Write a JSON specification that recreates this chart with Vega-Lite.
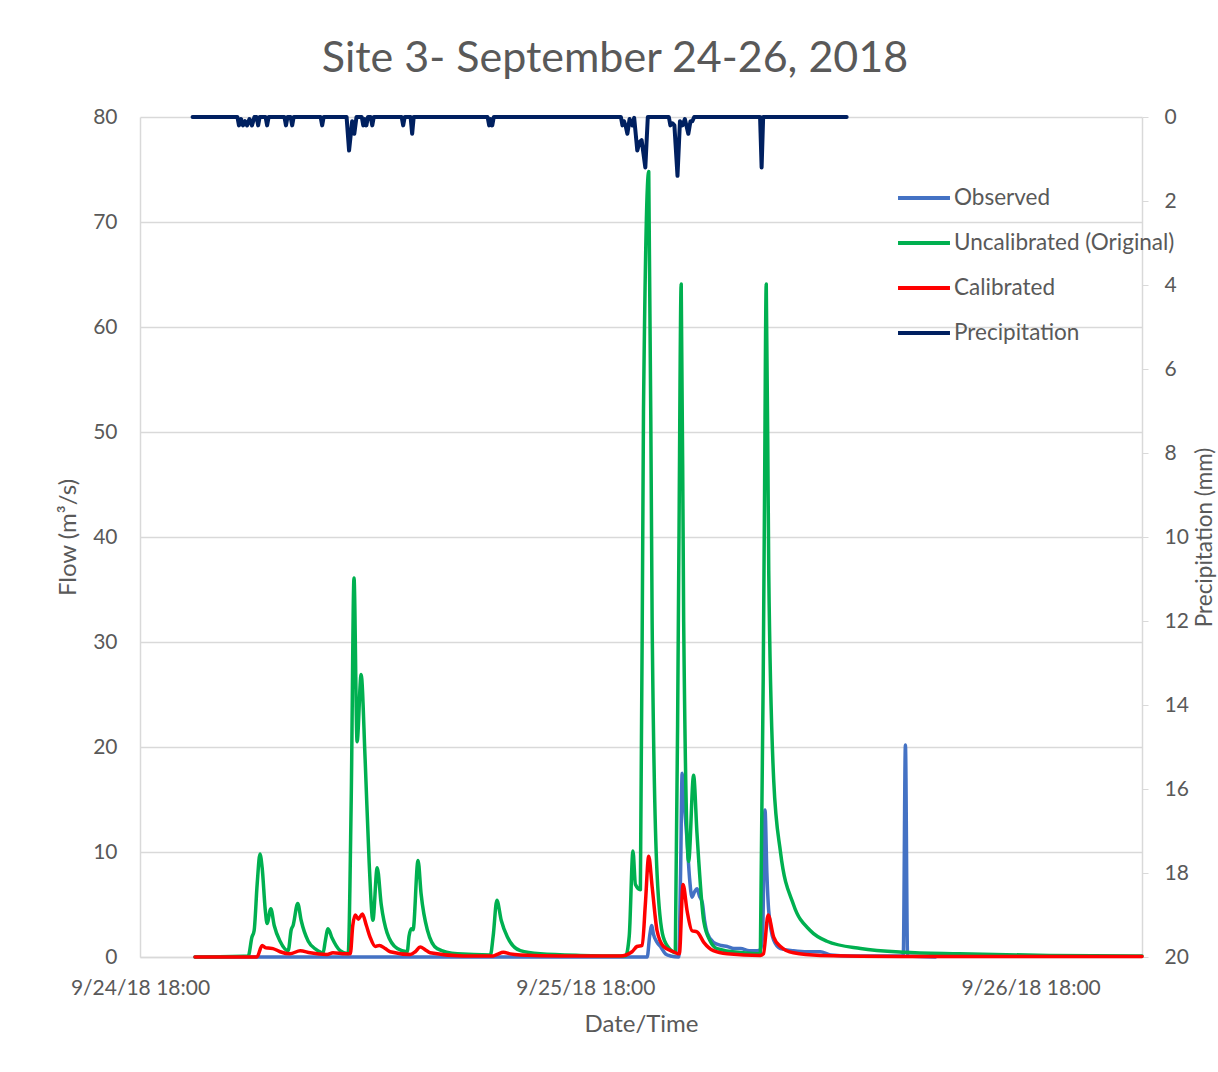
{
  "$schema": "https://vega.github.io/schema/vega-lite/v6.json",
  "width": 1002,
  "height": 840,
  "autosize": {"type": "none"},
  "padding": {"left": 140, "top": 117, "right": 76, "bottom": 115},
  "background": "white",
  "config": {
    "view": {"stroke": null},
    "font": "Lato",
    "axis": {"labelFont": "Lato", "titleFont": "Lato", "labelColor": "#595959", "titleColor": "#595959", "labelFontSize": 21, "titleFontSize": 24, "titleFontWeight": "normal", "domainColor": "#d9d9d9", "domainWidth": 1.5, "tickColor": "#d9d9d9", "gridColor": "#d9d9d9", "gridWidth": 1.5}
  },
  "title": {"text": "Site 3- September 24-26, 2018", "font": "Lato", "fontSize": 43, "fontWeight": "normal", "color": "#595959", "anchor": "middle", "dx": -26, "offset": 25},
  "data": {"values": [
    {"s":"Observed","t":"2018-09-24T20:58","v":0},
    {"s":"Observed","t":"2018-09-25T21:20","v":0},
    {"s":"Observed","t":"2018-09-25T21:28","v":2.0},
    {"s":"Observed","t":"2018-09-25T21:35","v":3.0},
    {"s":"Observed","t":"2018-09-25T21:40","v":2.2},
    {"s":"Observed","t":"2018-09-25T21:52","v":1.4},
    {"s":"Observed","t":"2018-09-25T22:03","v":1.0},
    {"s":"Observed","t":"2018-09-25T22:19","v":0.3},
    {"s":"Observed","t":"2018-09-25T22:35","v":0.1},
    {"s":"Observed","t":"2018-09-25T23:02","v":0},
    {"s":"Observed","t":"2018-09-25T23:08","v":8},
    {"s":"Observed","t":"2018-09-25T23:13","v":17.5},
    {"s":"Observed","t":"2018-09-25T23:20","v":14.5},
    {"s":"Observed","t":"2018-09-25T23:29","v":11.1},
    {"s":"Observed","t":"2018-09-25T23:37","v":7.5},
    {"s":"Observed","t":"2018-09-25T23:45","v":5.7},
    {"s":"Observed","t":"2018-09-25T23:53","v":6.2},
    {"s":"Observed","t":"2018-09-26T00:01","v":6.5},
    {"s":"Observed","t":"2018-09-26T00:09","v":5.8},
    {"s":"Observed","t":"2018-09-26T00:18","v":5.2},
    {"s":"Observed","t":"2018-09-26T00:26","v":3.4},
    {"s":"Observed","t":"2018-09-26T00:34","v":2.3},
    {"s":"Observed","t":"2018-09-26T00:54","v":1.4},
    {"s":"Observed","t":"2018-09-26T01:20","v":1.1},
    {"s":"Observed","t":"2018-09-26T01:39","v":1.0},
    {"s":"Observed","t":"2018-09-26T02:00","v":0.8},
    {"s":"Observed","t":"2018-09-26T02:22","v":0.8},
    {"s":"Observed","t":"2018-09-26T02:50","v":0.6},
    {"s":"Observed","t":"2018-09-26T03:16","v":0.6},
    {"s":"Observed","t":"2018-09-26T03:26","v":0.7},
    {"s":"Observed","t":"2018-09-26T03:33","v":2.0},
    {"s":"Observed","t":"2018-09-26T03:41","v":14.0},
    {"s":"Observed","t":"2018-09-26T03:47","v":8.0},
    {"s":"Observed","t":"2018-09-26T03:53","v":4.4},
    {"s":"Observed","t":"2018-09-26T04:09","v":1.6},
    {"s":"Observed","t":"2018-09-26T04:31","v":0.8},
    {"s":"Observed","t":"2018-09-26T05:13","v":0.6},
    {"s":"Observed","t":"2018-09-26T05:57","v":0.5},
    {"s":"Observed","t":"2018-09-26T06:40","v":0.5},
    {"s":"Observed","t":"2018-09-26T07:13","v":0.2},
    {"s":"Observed","t":"2018-09-26T08:17","v":0.1},
    {"s":"Observed","t":"2018-09-26T11:08","v":0.1},
    {"s":"Observed","t":"2018-09-26T11:15","v":20.2},
    {"s":"Observed","t":"2018-09-26T11:22","v":0.1},
    {"s":"Observed","t":"2018-09-26T12:52","v":0},
    {"s":"Uncalibrated (Original)","t":"2018-09-24T20:58","v":0},
    {"s":"Uncalibrated (Original)","t":"2018-09-24T23:50","v":0.1},
    {"s":"Uncalibrated (Original)","t":"2018-09-25T00:02","v":1.9},
    {"s":"Uncalibrated (Original)","t":"2018-09-25T00:09","v":2.5},
    {"s":"Uncalibrated (Original)","t":"2018-09-25T00:19","v":7.0},
    {"s":"Uncalibrated (Original)","t":"2018-09-25T00:28","v":9.8},
    {"s":"Uncalibrated (Original)","t":"2018-09-25T00:35","v":8.5},
    {"s":"Uncalibrated (Original)","t":"2018-09-25T00:45","v":4.5},
    {"s":"Uncalibrated (Original)","t":"2018-09-25T00:51","v":3.2},
    {"s":"Uncalibrated (Original)","t":"2018-09-25T01:03","v":4.6},
    {"s":"Uncalibrated (Original)","t":"2018-09-25T01:14","v":3.0},
    {"s":"Uncalibrated (Original)","t":"2018-09-25T01:33","v":1.5},
    {"s":"Uncalibrated (Original)","t":"2018-09-25T01:59","v":0.6},
    {"s":"Uncalibrated (Original)","t":"2018-09-25T02:09","v":2.6},
    {"s":"Uncalibrated (Original)","t":"2018-09-25T02:15","v":3.0},
    {"s":"Uncalibrated (Original)","t":"2018-09-25T02:30","v":5.1},
    {"s":"Uncalibrated (Original)","t":"2018-09-25T02:41","v":3.5},
    {"s":"Uncalibrated (Original)","t":"2018-09-25T03:04","v":1.5},
    {"s":"Uncalibrated (Original)","t":"2018-09-25T03:30","v":0.7},
    {"s":"Uncalibrated (Original)","t":"2018-09-25T03:52","v":0.4},
    {"s":"Uncalibrated (Original)","t":"2018-09-25T03:59","v":1.5},
    {"s":"Uncalibrated (Original)","t":"2018-09-25T04:08","v":2.7},
    {"s":"Uncalibrated (Original)","t":"2018-09-25T04:21","v":1.8},
    {"s":"Uncalibrated (Original)","t":"2018-09-25T04:47","v":0.6},
    {"s":"Uncalibrated (Original)","t":"2018-09-25T05:13","v":0.3},
    {"s":"Uncalibrated (Original)","t":"2018-09-25T05:23","v":15},
    {"s":"Uncalibrated (Original)","t":"2018-09-25T05:32","v":36.1},
    {"s":"Uncalibrated (Original)","t":"2018-09-25T05:42","v":20.5},
    {"s":"Uncalibrated (Original)","t":"2018-09-25T05:55","v":26.9},
    {"s":"Uncalibrated (Original)","t":"2018-09-25T06:08","v":18.8},
    {"s":"Uncalibrated (Original)","t":"2018-09-25T06:21","v":9},
    {"s":"Uncalibrated (Original)","t":"2018-09-25T06:33","v":3.5},
    {"s":"Uncalibrated (Original)","t":"2018-09-25T06:47","v":8.5},
    {"s":"Uncalibrated (Original)","t":"2018-09-25T07:00","v":5},
    {"s":"Uncalibrated (Original)","t":"2018-09-25T07:19","v":2.3},
    {"s":"Uncalibrated (Original)","t":"2018-09-25T07:52","v":0.8},
    {"s":"Uncalibrated (Original)","t":"2018-09-25T08:24","v":0.5},
    {"s":"Uncalibrated (Original)","t":"2018-09-25T08:30","v":2.0},
    {"s":"Uncalibrated (Original)","t":"2018-09-25T08:37","v":2.7},
    {"s":"Uncalibrated (Original)","t":"2018-09-25T08:43","v":2.6},
    {"s":"Uncalibrated (Original)","t":"2018-09-25T08:59","v":9.2},
    {"s":"Uncalibrated (Original)","t":"2018-09-25T09:09","v":6},
    {"s":"Uncalibrated (Original)","t":"2018-09-25T09:29","v":2.6},
    {"s":"Uncalibrated (Original)","t":"2018-09-25T10:01","v":0.8},
    {"s":"Uncalibrated (Original)","t":"2018-09-25T11:06","v":0.3},
    {"s":"Uncalibrated (Original)","t":"2018-09-25T12:53","v":0.2},
    {"s":"Uncalibrated (Original)","t":"2018-09-25T13:02","v":2.0},
    {"s":"Uncalibrated (Original)","t":"2018-09-25T13:14","v":5.4},
    {"s":"Uncalibrated (Original)","t":"2018-09-25T13:28","v":3.5},
    {"s":"Uncalibrated (Original)","t":"2018-09-25T13:48","v":1.9},
    {"s":"Uncalibrated (Original)","t":"2018-09-25T14:30","v":0.6},
    {"s":"Uncalibrated (Original)","t":"2018-09-25T15:34","v":0.3},
    {"s":"Uncalibrated (Original)","t":"2018-09-25T17:44","v":0.15},
    {"s":"Uncalibrated (Original)","t":"2018-09-25T20:10","v":0.1},
    {"s":"Uncalibrated (Original)","t":"2018-09-25T20:22","v":2},
    {"s":"Uncalibrated (Original)","t":"2018-09-25T20:34","v":10.1},
    {"s":"Uncalibrated (Original)","t":"2018-09-25T20:42","v":6.9},
    {"s":"Uncalibrated (Original)","t":"2018-09-25T20:58","v":6.4},
    {"s":"Uncalibrated (Original)","t":"2018-09-25T21:08","v":51.9},
    {"s":"Uncalibrated (Original)","t":"2018-09-25T21:25","v":74.8},
    {"s":"Uncalibrated (Original)","t":"2018-09-25T21:36","v":31.9},
    {"s":"Uncalibrated (Original)","t":"2018-09-25T21:52","v":7.9},
    {"s":"Uncalibrated (Original)","t":"2018-09-25T22:12","v":1.9},
    {"s":"Uncalibrated (Original)","t":"2018-09-25T22:35","v":0.7},
    {"s":"Uncalibrated (Original)","t":"2018-09-25T22:51","v":0.4},
    {"s":"Uncalibrated (Original)","t":"2018-09-25T23:02","v":36.8},
    {"s":"Uncalibrated (Original)","t":"2018-09-25T23:10","v":64.1},
    {"s":"Uncalibrated (Original)","t":"2018-09-25T23:18","v":31.9},
    {"s":"Uncalibrated (Original)","t":"2018-09-25T23:34","v":9.1},
    {"s":"Uncalibrated (Original)","t":"2018-09-25T23:50","v":17.3},
    {"s":"Uncalibrated (Original)","t":"2018-09-26T00:01","v":11.8},
    {"s":"Uncalibrated (Original)","t":"2018-09-26T00:23","v":3.4},
    {"s":"Uncalibrated (Original)","t":"2018-09-26T00:44","v":1.5},
    {"s":"Uncalibrated (Original)","t":"2018-09-26T01:06","v":0.8},
    {"s":"Uncalibrated (Original)","t":"2018-09-26T02:31","v":0.4},
    {"s":"Uncalibrated (Original)","t":"2018-09-26T03:26","v":0.3},
    {"s":"Uncalibrated (Original)","t":"2018-09-26T03:39","v":41.9},
    {"s":"Uncalibrated (Original)","t":"2018-09-26T03:45","v":64.1},
    {"s":"Uncalibrated (Original)","t":"2018-09-26T03:53","v":36.8},
    {"s":"Uncalibrated (Original)","t":"2018-09-26T04:09","v":16.9},
    {"s":"Uncalibrated (Original)","t":"2018-09-26T04:31","v":10},
    {"s":"Uncalibrated (Original)","t":"2018-09-26T05:13","v":5},
    {"s":"Uncalibrated (Original)","t":"2018-09-26T06:08","v":2.5},
    {"s":"Uncalibrated (Original)","t":"2018-09-26T07:01","v":1.5},
    {"s":"Uncalibrated (Original)","t":"2018-09-26T08:50","v":0.8},
    {"s":"Uncalibrated (Original)","t":"2018-09-26T11:06","v":0.45},
    {"s":"Uncalibrated (Original)","t":"2018-09-26T14:10","v":0.3},
    {"s":"Uncalibrated (Original)","t":"2018-09-26T19:00","v":0.15},
    {"s":"Uncalibrated (Original)","t":"2018-09-27T00:00","v":0.1},
    {"s":"Calibrated","t":"2018-09-24T20:58","v":0},
    {"s":"Calibrated","t":"2018-09-25T00:18","v":0},
    {"s":"Calibrated","t":"2018-09-25T00:35","v":1.1},
    {"s":"Calibrated","t":"2018-09-25T00:45","v":0.9},
    {"s":"Calibrated","t":"2018-09-25T00:54","v":0.85},
    {"s":"Calibrated","t":"2018-09-25T01:10","v":0.8},
    {"s":"Calibrated","t":"2018-09-25T01:33","v":0.5},
    {"s":"Calibrated","t":"2018-09-25T02:05","v":0.3},
    {"s":"Calibrated","t":"2018-09-25T02:38","v":0.6},
    {"s":"Calibrated","t":"2018-09-25T03:10","v":0.4},
    {"s":"Calibrated","t":"2018-09-25T04:05","v":0.25},
    {"s":"Calibrated","t":"2018-09-25T04:24","v":0.4},
    {"s":"Calibrated","t":"2018-09-25T05:03","v":0.3},
    {"s":"Calibrated","t":"2018-09-25T05:20","v":0.3},
    {"s":"Calibrated","t":"2018-09-25T05:28","v":3.0},
    {"s":"Calibrated","t":"2018-09-25T05:36","v":4.0},
    {"s":"Calibrated","t":"2018-09-25T05:46","v":3.6},
    {"s":"Calibrated","t":"2018-09-25T05:59","v":4.1},
    {"s":"Calibrated","t":"2018-09-25T06:12","v":3.0},
    {"s":"Calibrated","t":"2018-09-25T06:24","v":1.9},
    {"s":"Calibrated","t":"2018-09-25T06:41","v":1.0},
    {"s":"Calibrated","t":"2018-09-25T06:54","v":1.1},
    {"s":"Calibrated","t":"2018-09-25T07:13","v":0.8},
    {"s":"Calibrated","t":"2018-09-25T07:29","v":0.5},
    {"s":"Calibrated","t":"2018-09-25T08:34","v":0.25},
    {"s":"Calibrated","t":"2018-09-25T08:50","v":0.5},
    {"s":"Calibrated","t":"2018-09-25T09:06","v":0.95},
    {"s":"Calibrated","t":"2018-09-25T09:22","v":0.7},
    {"s":"Calibrated","t":"2018-09-25T09:38","v":0.4},
    {"s":"Calibrated","t":"2018-09-25T11:25","v":0.1},
    {"s":"Calibrated","t":"2018-09-25T13:02","v":0.1},
    {"s":"Calibrated","t":"2018-09-25T13:15","v":0.25},
    {"s":"Calibrated","t":"2018-09-25T13:35","v":0.45},
    {"s":"Calibrated","t":"2018-09-25T13:57","v":0.3},
    {"s":"Calibrated","t":"2018-09-25T14:30","v":0.2},
    {"s":"Calibrated","t":"2018-09-25T16:39","v":0.1},
    {"s":"Calibrated","t":"2018-09-25T19:53","v":0.1},
    {"s":"Calibrated","t":"2018-09-25T20:31","v":0.5},
    {"s":"Calibrated","t":"2018-09-25T20:47","v":1.0},
    {"s":"Calibrated","t":"2018-09-25T21:04","v":1.1},
    {"s":"Calibrated","t":"2018-09-25T21:14","v":5.0},
    {"s":"Calibrated","t":"2018-09-25T21:25","v":9.6},
    {"s":"Calibrated","t":"2018-09-25T21:36","v":6.7},
    {"s":"Calibrated","t":"2018-09-25T21:52","v":2.5},
    {"s":"Calibrated","t":"2018-09-25T22:13","v":1.0},
    {"s":"Calibrated","t":"2018-09-25T22:45","v":0.5},
    {"s":"Calibrated","t":"2018-09-25T23:04","v":0.3},
    {"s":"Calibrated","t":"2018-09-25T23:16","v":6.9},
    {"s":"Calibrated","t":"2018-09-25T23:29","v":4.4},
    {"s":"Calibrated","t":"2018-09-25T23:45","v":2.5},
    {"s":"Calibrated","t":"2018-09-26T00:01","v":2.4},
    {"s":"Calibrated","t":"2018-09-26T00:23","v":1.4},
    {"s":"Calibrated","t":"2018-09-26T00:54","v":0.6},
    {"s":"Calibrated","t":"2018-09-26T01:39","v":0.3},
    {"s":"Calibrated","t":"2018-09-26T03:26","v":0.15},
    {"s":"Calibrated","t":"2018-09-26T03:36","v":0.3},
    {"s":"Calibrated","t":"2018-09-26T03:51","v":4.0},
    {"s":"Calibrated","t":"2018-09-26T04:09","v":1.9},
    {"s":"Calibrated","t":"2018-09-26T04:31","v":1.0},
    {"s":"Calibrated","t":"2018-09-26T05:13","v":0.4},
    {"s":"Calibrated","t":"2018-09-26T06:40","v":0.15},
    {"s":"Calibrated","t":"2018-09-26T10:59","v":0.05},
    {"s":"Calibrated","t":"2018-09-27T00:00","v":0.05},
    {"s":"Precipitation","t":"2018-09-24T20:50","v":0},
    {"s":"Precipitation","t":"2018-09-24T23:15","v":0},
    {"s":"Precipitation","t":"2018-09-24T23:20","v":0.2},
    {"s":"Precipitation","t":"2018-09-24T23:27","v":0.05},
    {"s":"Precipitation","t":"2018-09-24T23:33","v":0.2},
    {"s":"Precipitation","t":"2018-09-24T23:40","v":0.1},
    {"s":"Precipitation","t":"2018-09-24T23:46","v":0.2},
    {"s":"Precipitation","t":"2018-09-24T23:54","v":0.05},
    {"s":"Precipitation","t":"2018-09-25T00:02","v":0.2},
    {"s":"Precipitation","t":"2018-09-25T00:10","v":0},
    {"s":"Precipitation","t":"2018-09-25T00:17","v":0},
    {"s":"Precipitation","t":"2018-09-25T00:22","v":0.2},
    {"s":"Precipitation","t":"2018-09-25T00:27","v":0},
    {"s":"Precipitation","t":"2018-09-25T00:46","v":0},
    {"s":"Precipitation","t":"2018-09-25T00:51","v":0.2},
    {"s":"Precipitation","t":"2018-09-25T00:56","v":0},
    {"s":"Precipitation","t":"2018-09-25T01:47","v":0},
    {"s":"Precipitation","t":"2018-09-25T01:52","v":0.2},
    {"s":"Precipitation","t":"2018-09-25T01:57","v":0},
    {"s":"Precipitation","t":"2018-09-25T02:07","v":0},
    {"s":"Precipitation","t":"2018-09-25T02:12","v":0.2},
    {"s":"Precipitation","t":"2018-09-25T02:17","v":0},
    {"s":"Precipitation","t":"2018-09-25T03:44","v":0},
    {"s":"Precipitation","t":"2018-09-25T03:49","v":0.2},
    {"s":"Precipitation","t":"2018-09-25T03:54","v":0},
    {"s":"Precipitation","t":"2018-09-25T05:08","v":0},
    {"s":"Precipitation","t":"2018-09-25T05:16","v":0.8},
    {"s":"Precipitation","t":"2018-09-25T05:26","v":0.1},
    {"s":"Precipitation","t":"2018-09-25T05:33","v":0.4},
    {"s":"Precipitation","t":"2018-09-25T05:40","v":0},
    {"s":"Precipitation","t":"2018-09-25T05:57","v":0},
    {"s":"Precipitation","t":"2018-09-25T06:02","v":0.2},
    {"s":"Precipitation","t":"2018-09-25T06:07","v":0.05},
    {"s":"Precipitation","t":"2018-09-25T06:12","v":0.2},
    {"s":"Precipitation","t":"2018-09-25T06:17","v":0},
    {"s":"Precipitation","t":"2018-09-25T06:26","v":0},
    {"s":"Precipitation","t":"2018-09-25T06:31","v":0.2},
    {"s":"Precipitation","t":"2018-09-25T06:36","v":0},
    {"s":"Precipitation","t":"2018-09-25T08:06","v":0},
    {"s":"Precipitation","t":"2018-09-25T08:11","v":0.2},
    {"s":"Precipitation","t":"2018-09-25T08:16","v":0},
    {"s":"Precipitation","t":"2018-09-25T08:35","v":0},
    {"s":"Precipitation","t":"2018-09-25T08:40","v":0.4},
    {"s":"Precipitation","t":"2018-09-25T08:45","v":0},
    {"s":"Precipitation","t":"2018-09-25T12:44","v":0},
    {"s":"Precipitation","t":"2018-09-25T12:49","v":0.2},
    {"s":"Precipitation","t":"2018-09-25T12:54","v":0.05},
    {"s":"Precipitation","t":"2018-09-25T12:59","v":0.2},
    {"s":"Precipitation","t":"2018-09-25T13:04","v":0},
    {"s":"Precipitation","t":"2018-09-25T19:55","v":0},
    {"s":"Precipitation","t":"2018-09-25T20:00","v":0.2},
    {"s":"Precipitation","t":"2018-09-25T20:05","v":0.1},
    {"s":"Precipitation","t":"2018-09-25T20:10","v":0.2},
    {"s":"Precipitation","t":"2018-09-25T20:16","v":0.4},
    {"s":"Precipitation","t":"2018-09-25T20:23","v":0.05},
    {"s":"Precipitation","t":"2018-09-25T20:32","v":0.2},
    {"s":"Precipitation","t":"2018-09-25T20:38","v":0.02},
    {"s":"Precipitation","t":"2018-09-25T20:48","v":0.8},
    {"s":"Precipitation","t":"2018-09-25T20:55","v":0.6},
    {"s":"Precipitation","t":"2018-09-25T21:02","v":0.55},
    {"s":"Precipitation","t":"2018-09-25T21:14","v":1.2},
    {"s":"Precipitation","t":"2018-09-25T21:22","v":0},
    {"s":"Precipitation","t":"2018-09-25T22:30","v":0},
    {"s":"Precipitation","t":"2018-09-25T22:35","v":0.2},
    {"s":"Precipitation","t":"2018-09-25T22:42","v":0.15},
    {"s":"Precipitation","t":"2018-09-25T22:48","v":0.2},
    {"s":"Precipitation","t":"2018-09-25T22:58","v":1.4},
    {"s":"Precipitation","t":"2018-09-25T23:06","v":0.1},
    {"s":"Precipitation","t":"2018-09-25T23:14","v":0.2},
    {"s":"Precipitation","t":"2018-09-25T23:22","v":0.05},
    {"s":"Precipitation","t":"2018-09-25T23:33","v":0.4},
    {"s":"Precipitation","t":"2018-09-25T23:40","v":0.1},
    {"s":"Precipitation","t":"2018-09-25T23:46","v":0.1},
    {"s":"Precipitation","t":"2018-09-25T23:52","v":0},
    {"s":"Precipitation","t":"2018-09-26T03:25","v":0},
    {"s":"Precipitation","t":"2018-09-26T03:30","v":1.2},
    {"s":"Precipitation","t":"2018-09-26T03:35","v":0},
    {"s":"Precipitation","t":"2018-09-26T08:05","v":0}
  ]},
  "encoding": {
    "x": {
      "field": "t", "type": "temporal", "title": "Date/Time",
      "scale": {"domain": [{"year": 2018, "month": "sep", "date": 24, "hours": 18}, {"year": 2018, "month": "sep", "date": 27, "hours": 0}]},
      "axis": {"values": [{"year": 2018, "month": "sep", "date": 24, "hours": 18}, {"year": 2018, "month": "sep", "date": 25, "hours": 18}, {"year": 2018, "month": "sep", "date": 26, "hours": 18}], "format": "%-m/%-d/%y %H:%M", "ticks": false, "grid": false, "labelPadding": 20, "titlePadding": 14, "labelFlush": false}
    },
    "color": {
      "field": "s", "type": "nominal",
      "scale": {"domain": ["Observed", "Uncalibrated (Original)", "Calibrated", "Precipitation"], "range": ["#4472C4", "#00B050", "#FF0000", "#002060"]},
      "legend": {"title": null, "orient": "none", "legendX": 756, "legendY": 53, "symbolType": "stroke", "symbolSize": 2700, "symbolStrokeWidth": 4, "labelFont": "Lato", "labelFontSize": 22.5, "labelColor": "#595959", "labelLimit": 0, "labelOffset": 2, "rowPadding": 5, "padding": 0}
    }
  },
  "layer": [
    {
      "transform": [{"filter": "datum.s !== 'Precipitation'"}],
      "mark": {"type": "line", "strokeWidth": 3.5, "interpolate": "monotone", "strokeJoin": "round", "strokeCap": "round"},
      "encoding": {
        "y": {"field": "v", "type": "quantitative", "title": "Flow (m³/s)", "scale": {"domain": [0, 80]},
          "axis": {"values": [0, 10, 20, 30, 40, 50, 60, 70, 80], "ticks": false, "labelPadding": 23, "titlePadding": 12, "grid": true}}
      }
    },
    {
      "transform": [{"filter": "datum.s === 'Precipitation'"}],
      "mark": {"type": "line", "strokeWidth": 4, "strokeJoin": "round", "strokeCap": "round"},
      "encoding": {
        "y": {"field": "v", "type": "quantitative", "title": "Precipitation (mm)", "scale": {"domain": [0, 20], "reverse": true},
          "axis": {"orient": "right", "values": [0, 2, 4, 6, 8, 10, 12, 14, 16, 18, 20], "grid": false, "ticks": true, "tickSize": 6, "labelPadding": 16, "titlePadding": 28, "titleFontSize": 22.5, "titleAngle": 270}}
      }
    }
  ],
  "resolve": {"scale": {"y": "independent"}}
}
